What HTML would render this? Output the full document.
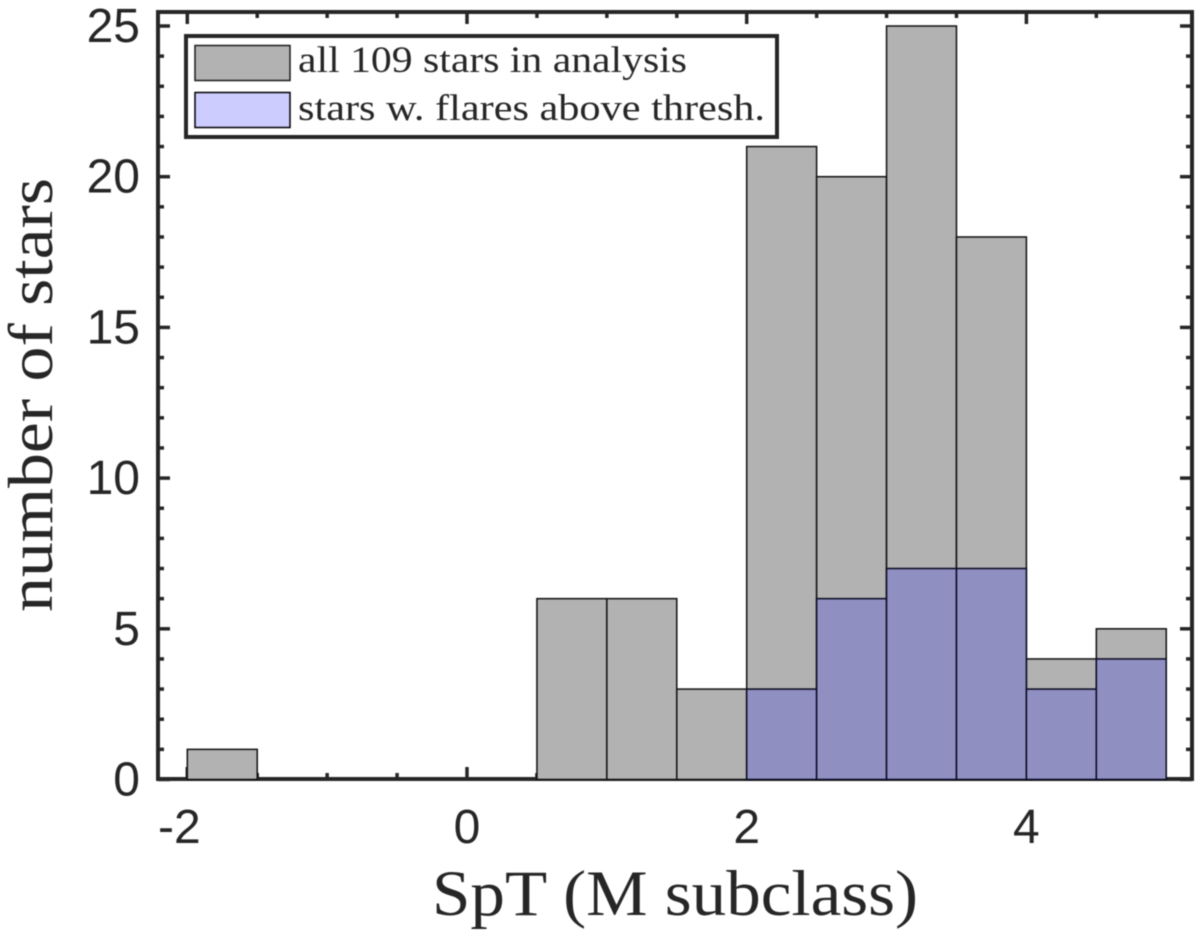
<!DOCTYPE html>
<html lang="en">
<head>
<meta charset="utf-8">
<title>Histogram of stars by spectral type</title>
<style>
html,body{margin:0;padding:0;background:#fff;width:1200px;height:938px;overflow:hidden}
svg{display:block;filter:blur(0.5px)}
.tick-label{font-family:"Liberation Sans",sans-serif;font-size:48px;fill:#262626}
.serif{font-family:"Liberation Serif",serif;fill:#262626}
</style>
</head>
<body>
<svg id="chart" xmlns="http://www.w3.org/2000/svg" width="1200" height="938" viewBox="0 0 1200 938">
  <g id="bars"></g>
  <g id="ticks"></g>
  <rect x="158" y="12" width="1034" height="767" fill="none" stroke="#262626" stroke-width="4"></rect>
  <g id="overlay"></g>
  <g id="labels"></g>
  <text class="serif" x="432" y="915" font-size="65" textLength="486" lengthAdjust="spacingAndGlyphs">SpT (M subclass)</text>
  <text class="serif" transform="translate(52,612) rotate(-90)" font-size="64" textLength="434" lengthAdjust="spacingAndGlyphs">number of stars</text>
  <g>
    <rect x="186" y="36" width="591" height="101" fill="#fff" stroke="#262626" stroke-width="4"></rect>
    <rect x="195" y="45.500" width="95" height="35" fill="#b2b2b2" stroke="#1c1c1c" stroke-width="1.500"></rect>
    <text class="serif" x="298" y="72" font-size="37" textLength="389" lengthAdjust="spacingAndGlyphs">all 109 stars in analysis</text>
    <rect x="195" y="92.500" width="95" height="35" fill="#ccccff" stroke="#000" stroke-width="1.500"></rect>
    <text class="serif" x="298" y="120" font-size="37" textLength="467" lengthAdjust="spacingAndGlyphs">stars w. flares above thresh.</text>
  </g>
</svg>
<script>
const binStarts = [-2, -1.5, -1, -0.5, 0, 0.5, 1, 1.5, 2, 2.5, 3, 3.5, 4, 4.5];
const allStarCounts = [1, 0, 0, 0, 0, 6, 6, 3, 21, 20, 25, 18, 4, 5];
const flareStarCounts = [0, 0, 0, 0, 0, 0, 0, 0, 3, 6, 7, 7, 3, 4];
const xMajorTicks = [-2, 0, 2, 4];
const xMinorTicks = [-1.5, -1, -0.5, 0.5, 1, 1.5, 2.5, 3, 3.5, 4.5];
const yMajorTicks = [0, 5, 10, 15, 20, 25];
const yMinorTicks = [1, 2, 3, 4, 6, 7, 8, 9, 11, 12, 13, 14, 16, 17, 18, 19, 21, 22, 23, 24];
const binWidth = 0.5;

const NS = 'http://www.w3.org/2000/svg';
const plotLeft = 158, plotRight = 1192, plotTop = 12, plotBottom = 779;
const xScale = v => 467 + v * 139.85;
const yScale = v => 779.5 - v * 30.14;
const barsGroup = document.getElementById('bars');
const ticksGroup = document.getElementById('ticks');
const overlayGroup = document.getElementById('overlay');
const labelsGroup = document.getElementById('labels');

function addRect(parent, start, count, fill, stroke) {
  const el = document.createElementNS(NS, 'rect');
  el.setAttribute('x', xScale(start));
  el.setAttribute('y', yScale(count));
  el.setAttribute('width', xScale(start + binWidth) - xScale(start));
  el.setAttribute('height', yScale(0) - yScale(count));
  el.setAttribute('fill', fill);
  el.setAttribute('stroke', stroke);
  el.setAttribute('stroke-width', '1.5');
  parent.appendChild(el);
  return el;
}

function addTick(x1, y1, x2, y2) {
  const el = document.createElementNS(NS, 'line');
  el.setAttribute('x1', x1);
  el.setAttribute('y1', y1);
  el.setAttribute('x2', x2);
  el.setAttribute('y2', y2);
  el.setAttribute('stroke', '#262626');
  el.setAttribute('stroke-width', '3.5');
  ticksGroup.appendChild(el);
  
  
}

function addLabel(text, x, y, anchor) {
  const el = document.createElementNS(NS, 'text');
  el.setAttribute('class', 'tick-label');
  el.setAttribute('x', x);
  el.setAttribute('y', y);
  el.setAttribute('text-anchor', anchor);
  el.textContent = text;
  labelsGroup.appendChild(el);
  
  
}

xMajorTicks.forEach(v => {
  addTick(xScale(v), plotBottom, xScale(v), plotBottom - 12);
  addTick(xScale(v), plotTop, xScale(v), plotTop + 12);
  addLabel(String(v), xScale(v) - (v < 0 ? 8 : 0), 843, 'middle');
});
xMinorTicks.forEach(v => {
  addTick(xScale(v), plotBottom, xScale(v), plotBottom - 6);
  addTick(xScale(v), plotTop, xScale(v), plotTop + 6);
});
yMajorTicks.forEach(v => {
  addTick(plotLeft, yScale(v), plotLeft + 12, yScale(v));
  addTick(plotRight, yScale(v), plotRight - 12, yScale(v));
  addLabel(String(v), 140, yScale(v) + 16, 'end');
});
yMinorTicks.forEach(v => {
  addTick(plotLeft, yScale(v), plotLeft + 6, yScale(v));
  addTick(plotRight, yScale(v), plotRight - 6, yScale(v));
});

binStarts.forEach((start, i) => {
  const bar = addRect(overlayGroup, start, allStarCounts[i], '#b2b2b2', '#111111');
  
  
});
binStarts.forEach((start, i) => {
  if (flareStarCounts[i] > 0) {
    const bar = addRect(overlayGroup, start, flareStarCounts[i], '#8f8fc2', '#0a0a20');
    
    
  }
});
</script>
</body>
</html>
